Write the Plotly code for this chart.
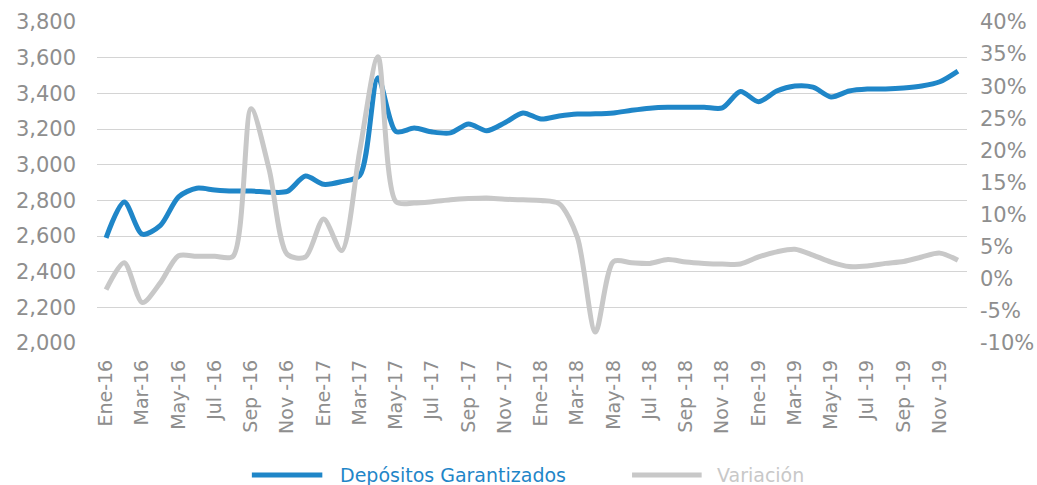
import plotly.graph_objects as go

months = ["Ene", "Feb", "Mar", "Abr", "May", "Jun", "Jul", "Ago", "Sep", "Oct", "Nov", "Dic"]
years = ["16", "17", "18", "19"]
categories = [f"{m}-{y}" for y in years for m in months]

depositos = [
    2590, 2790, 2610, 2660, 2820, 2868, 2858, 2852, 2852, 2846, 2850, 2936,
    2890, 2905, 2940, 3488, 3185, 3205, 3183, 3178, 3228, 3190, 3235, 3290,
    3256, 3273, 3284, 3285, 3290, 3305, 3317, 3322, 3322, 3322, 3318, 3410,
    3353, 3413, 3441, 3435, 3380, 3413, 3424, 3425, 3430, 3441, 3465, 3525,
]

variacion = [
    -0.017, 0.025, -0.037, -0.006, 0.036, 0.035, 0.035, 0.035, 0.265, 0.170, 0.038, 0.034,
    0.093, 0.044, 0.200, 0.346, 0.120, 0.118, 0.120, 0.123, 0.125, 0.126, 0.124, 0.123,
    0.122, 0.117, 0.065, -0.083, 0.027, 0.025, 0.024, 0.030, 0.026, 0.024, 0.023, 0.023,
    0.034, 0.042, 0.046, 0.037, 0.026, 0.019, 0.020, 0.024, 0.027, 0.034, 0.040, 0.029,
]

tick_vals = categories[::2]
tick_text = [
    "Ene-16", "Mar-16", "May-16", "Jul -16", "Sep -16", "Nov -16",
    "Ene-17", "Mar-17", "May-17", "Jul -17", "Sep -17", "Nov -17",
    "Ene-18", "Mar-18", "May-18", "Jul -18", "Sep -18", "Nov -18",
    "Ene-19", "Mar-19", "May-19", "Jul -19", "Sep -19", "Nov -19",
]

y2_tick_vals = [-0.10, -0.05, 0.0, 0.05, 0.10, 0.15, 0.20, 0.25, 0.30, 0.35, 0.40]
y2_tick_text = ["-10%", "-5%", "0%", "5%", "10%", "15%", "20%", "25%", "30%", "35%", "40%"]

series_names = ["Depósitos Garantizados", "Variación"]
blue = "#1f86c8"
gray = "#c8c8c8"
tick_color = "#8e8e8e"
font_family = "DejaVu Sans"

fig = go.Figure()
fig.add_trace(go.Scatter(
    x=categories, y=variacion, name=series_names[1], yaxis="y2",
    mode="lines", line=dict(color=gray, width=5, shape="spline", smoothing=0.8),
    showlegend=False,
))
fig.add_trace(go.Scatter(
    x=categories, y=depositos, name=series_names[0], yaxis="y",
    mode="lines", line=dict(color=blue, width=5, shape="spline", smoothing=0.8),
    showlegend=False,
))

fig.update_layout(
    width=1037, height=485,
    margin=dict(l=97, r=70, t=22, b=142),
    paper_bgcolor="white", plot_bgcolor="white",
    font=dict(family=font_family, color=tick_color),
    xaxis=dict(
        type="category", categoryorder="array", categoryarray=categories,
        range=[-0.5, len(categories) - 0.5],
        tickmode="array", tickvals=tick_vals, ticktext=tick_text,
        tickangle=-90, tickfont=dict(size=19, color=tick_color),
        showgrid=False, showline=False, zeroline=False,
        ticks="", ticklabelstandoff=12, automargin=False,
    ),
    yaxis=dict(
        range=[2000, 3800], dtick=200, tick0=2000, tickformat=",",
        tickfont=dict(size=21, color=tick_color),
        showgrid=True, gridcolor="#d4d4d4", gridwidth=1,
        zeroline=False, showline=False, ticks="",
        ticklabelstandoff=20, automargin=False,
    ),
    yaxis2=dict(
        overlaying="y", side="right",
        range=[-0.10, 0.40], tickmode="array",
        tickvals=y2_tick_vals, ticktext=y2_tick_text,
        tickfont=dict(size=21, color=tick_color),
        showgrid=False, zeroline=False, showline=False, ticks="",
        ticklabelstandoff=12, automargin=False,
    ),
)

# Custom legend (long line samples as in reference)
legend_y = -0.411
legend_items = [
    (series_names[0], blue, 0.178, 0.259, 0.277),
    (series_names[1], gray, 0.615, 0.695, 0.710),
]
for name, color, x0, x1, xt in legend_items:
    fig.add_shape(type="line", xref="paper", yref="paper",
                  x0=x0, x1=x1, y0=legend_y, y1=legend_y,
                  line=dict(color=color, width=5))
    fig.add_annotation(xref="paper", yref="paper", x=xt, y=legend_y,
                       text=name, showarrow=False, xanchor="left", yanchor="middle",
                       font=dict(size=19, color=color, family=font_family))

fig.write_html("out.html", config={"displayModeBar": False},
               post_script="document.body.style.margin='0px';")
